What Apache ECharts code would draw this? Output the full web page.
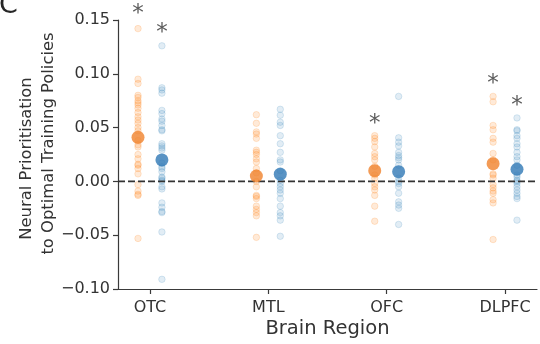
<!DOCTYPE html>
<html><head><meta charset="utf-8">
<script src="https://cdn.jsdelivr.net/npm/echarts@6/dist/echarts.min.js"></script>
<style>html,body{margin:0;padding:0;background:#fff}#c{width:540px;height:344px}</style>
</head><body><div id="c"></div>
<script>
const categories = ['OTC', 'MTL', 'OFC', 'DLPFC'];
const yTicks = [-0.10, -0.05, 0.00, 0.05, 0.10, 0.15];

const orangeOTC = [0.142, 0.095, 0.091, 0.080, 0.078, 0.075, 0.073, 0.071, 0.068, 0.064, 0.060, 0.057, 0.054, 0.050, 0.047, 0.038, 0.034, 0.032, 0.025, 0.021, 0.016, 0.015, 0.012, 0.007, -0.003, -0.009, -0.012, -0.013, -0.053];
const blueOTC = [0.126, 0.087, 0.085, 0.082, 0.066, 0.063, 0.058, 0.056, 0.052, 0.048, 0.047, 0.035, 0.033, 0.031, 0.029, 0.017, 0.0135, 0.012, 0.009, 0.004, 0.003, 0.001, 0.000, -0.005, -0.007, -0.020, -0.024, -0.028, -0.029, -0.047, -0.091];
const orangeMTL = [0.062, 0.054, 0.046, 0.044, 0.040, 0.029, 0.027, 0.025, 0.021, 0.018, 0.012, 0.008, 0.000, -0.005, -0.013, -0.014, -0.016, -0.023, -0.026, -0.029, -0.032, -0.052];
const blueMTL = [0.067, 0.0615, 0.055, 0.052, 0.0425, 0.035, 0.027, 0.020, 0.018, 0.010, 0.001, -0.002, -0.005, -0.008, -0.011, -0.016, -0.023, -0.029, -0.032, -0.036, -0.051];
const orangeOFC = [0.0425, 0.040, 0.037, 0.032, 0.026, 0.023, 0.020, 0.014, 0.006, 0.003, -0.002, -0.005, -0.008, -0.013, -0.023, -0.037];
const blueOFC = [0.079, 0.0405, 0.0365, 0.033, 0.027, 0.024, 0.022, 0.020, 0.015, 0.003, 0.000, -0.002, -0.005, -0.011, -0.019, -0.022, -0.025, -0.040];
const orangeDLPFC = [0.079, 0.074, 0.052, 0.048, 0.040, 0.0365, 0.026, 0.020, 0.007, 0.006, 0.003, -0.003, -0.006, -0.009, -0.011, -0.017, -0.020, -0.054];
const blueDLPFC = [0.059, 0.048, 0.047, 0.0425, 0.040, 0.035, 0.032, 0.027, 0.023, 0.020, 0.015, 0.006, 0.004, 0.001, 0.000, -0.002, -0.005, -0.008, -0.011, -0.014, -0.016, -0.036];

const orangeMeans = [0.041, 0.005, 0.010, 0.0165];
const blueMeans = [0.020, 0.0067, 0.009, 0.0113];

// significance star heights (null = no star)
const orangeStars = [0.160, null, 0.058, 0.0947];
const blueStars = [0.143, null, null, 0.0744];

const orangeGroups = [orangeOTC, orangeMTL, orangeOFC, orangeDLPFC];
const blueGroups = [blueOTC, blueMTL, blueOFC, blueDLPFC];

const OFF = 0.101;
const TXT = '#333333';
const FONT = 'DejaVu Sans';

function pts(groups, off) {
  const out = [];
  groups.forEach((g, i) => g.forEach(v => out.push([i + off, v])));
  return out;
}
function means(arr, off) { return arr.map((v, i) => [i + off, v]); }
function stars(arr, off) {
  const out = [];
  arr.forEach((v, i) => { if (v !== null) out.push([i + off, v]); });
  return out;
}
function fmtY(v) {
  const r = Math.round(v * 100) / 100;
  if (Math.abs(r) < 1e-9) return '0.00';
  return (r < 0 ? '\u2212' : '') + Math.abs(r).toFixed(2);
}

const chart = echarts.init(document.getElementById('c'), null, {renderer: 'canvas'});
chart.setOption({
  animation: false,
  backgroundColor: '#fff',
  textStyle: {fontFamily: FONT},
  graphic: [{
    type: 'text', left: -1, top: -8,
    style: {text: 'C', fontSize: 27, fontFamily: FONT, fill: '#262626'}
  }],
  grid: {left: 118, right: 3, top: 20, bottom: 52},
  xAxis: {
    type: 'value', min: -0.27, max: 3.27,
    splitLine: {show: false},
    axisLine: {show: true, onZero: false, lineStyle: {color: '#3a3a3a', width: 1.2}},
    axisTick: {show: true, length: 5, lineStyle: {color: '#3a3a3a', width: 1.2}, customValues: [0, 1, 2, 3]},
    axisLabel: {customValues: [0, 1, 2, 3], formatter: v => categories[Math.round(v)], fontSize: 16, color: TXT, margin: 11, fontFamily: FONT},
    name: 'Brain Region', nameLocation: 'middle', nameGap: 30, nameMoveOverlap: false,
    nameTextStyle: {fontSize: 19.5, color: TXT, fontFamily: FONT}
  },
  yAxis: {
    type: 'value', min: -0.10, max: 0.15, interval: 0.05,
    splitLine: {show: false},
    axisLine: {show: true, onZero: false, lineStyle: {color: '#3a3a3a', width: 1.2}},
    axisTick: {show: true, length: 5, lineStyle: {color: '#3a3a3a', width: 1.2}},
    axisLabel: {formatter: fmtY, fontSize: 16, color: TXT, margin: 8, fontFamily: FONT},
    name: '{a|Neural Prioritisation}\n{b|to Optimal Training Policies}',
    nameLocation: 'middle', nameGap: 58, nameRotate: 90, nameMoveOverlap: false,
    nameTextStyle: {
      fontSize: 16.4, color: TXT, lineHeight: 22, fontFamily: FONT, align: 'center',
      padding: [0, 0, 0, 22],
      rich: {
        a: {fontSize: 16.4, color: TXT, lineHeight: 22, fontFamily: FONT, padding: [0, 30, 0, 0]},
        b: {fontSize: 16.4, color: TXT, lineHeight: 22, fontFamily: FONT}
      }
    }
  },
  series: [
    {
      type: 'scatter', z: 2, symbolSize: 6.5,
      data: pts(orangeGroups, -OFF),
      itemStyle: {color: 'rgba(255,127,14,0.2)', borderColor: 'rgba(255,127,14,0.28)', borderWidth: 0.8}
    },
    {
      type: 'scatter', z: 2, symbolSize: 6.5,
      data: pts(blueGroups, OFF),
      itemStyle: {color: 'rgba(31,119,180,0.16)', borderColor: 'rgba(31,119,180,0.25)', borderWidth: 0.8}
    },
    {
      type: 'line', z: 3, symbol: 'none', silent: true,
      data: [[-0.27, 0], [3.27, 0]],
      lineStyle: {color: '#333', width: 1.8, type: [7, 3]}
    },
    {
      type: 'scatter', z: 4, symbolSize: 13,
      data: means(orangeMeans, -OFF),
      itemStyle: {color: '#f0822c'}
    },
    {
      type: 'scatter', z: 4, symbolSize: 13,
      data: means(blueMeans, OFF),
      itemStyle: {color: '#2f78b5'}
    },
    {
      type: 'scatter', z: 5, clip: false, symbolSize: 2,
      data: stars(orangeStars, -OFF).concat(stars(blueStars, OFF)),
      itemStyle: {color: 'rgba(0,0,0,0)'},
      label: {show: true, formatter: '*', position: 'inside', fontSize: 23, color: '#333', fontFamily: FONT, offset: [0, 5]}
    }
  ]
});
</script>
</body></html>
